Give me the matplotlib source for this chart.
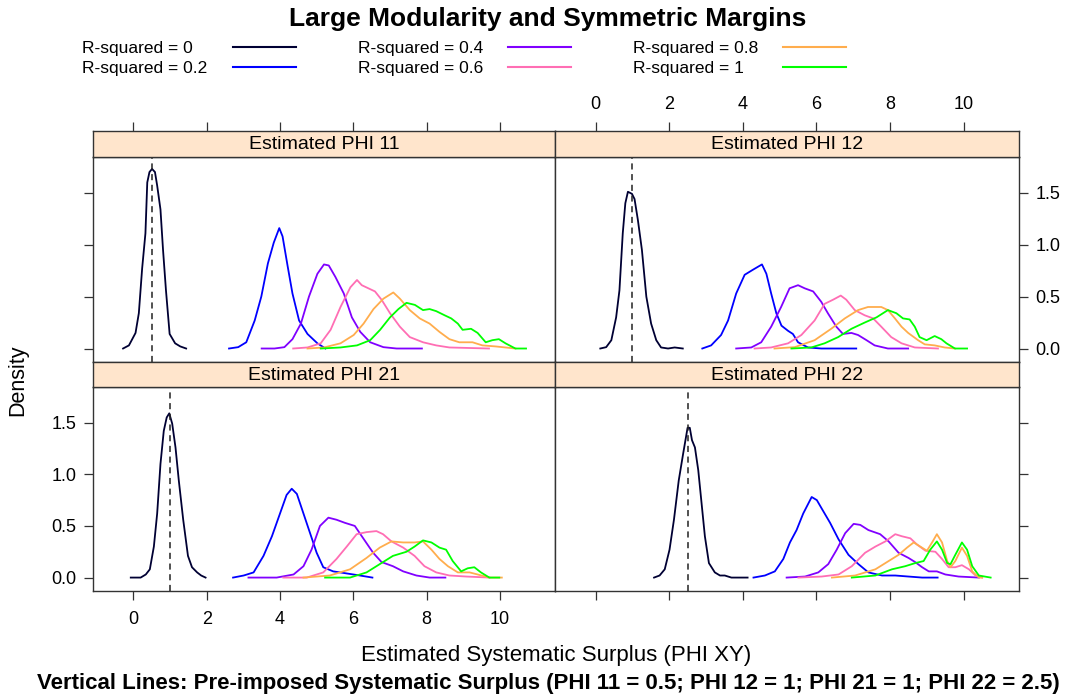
import matplotlib
matplotlib.use("Agg")
import matplotlib.pyplot as plt
from matplotlib.lines import Line2D

plt.rcParams["font.family"] = ["Liberation Sans", "DejaVu Sans"]

# ---- data (density curves per R-squared group) ----
groups = ["R-squared = 0", "R-squared = 0.2", "R-squared = 0.4",
          "R-squared = 0.6", "R-squared = 0.8", "R-squared = 1"]
colors = ["#000033", "#0000ff", "#8000ff", "#ff6eb4", "#ffad4d", "#00ff00"]

panel_titles = ["Estimated PHI 11", "Estimated PHI 12", "Estimated PHI 21", "Estimated PHI 22"]
true_phi = [0.5, 1.0, 1.0, 2.5]

p11_x = [
    [-0.28, -0.12, 0.06, 0.15, 0.24, 0.33, 0.38, 0.44, 0.51, 0.59, 0.65, 0.74, 0.81, 0.89, 0.99, 1.14, 1.28, 1.44],
    [2.61, 2.86, 3.08, 3.31, 3.49, 3.67, 3.83, 3.98, 4.07, 4.21, 4.34, 4.52, 4.75, 5.02, 5.24],
    [3.50, 3.85, 4.12, 4.34, 4.57, 4.79, 5.02, 5.20, 5.33, 5.51, 5.74, 5.96, 6.19, 6.46, 6.82, 7.18, 7.87],
    [4.36, 4.75, 5.11, 5.38, 5.65, 5.92, 6.10, 6.23, 6.41, 6.59, 6.77, 7.00, 7.27, 7.54, 7.90, 8.26, 8.62, 9.70],
    [4.75, 5.20, 5.65, 6.01, 6.28, 6.55, 6.82, 7.09, 7.27, 7.54, 7.81, 8.08, 8.35, 8.62, 8.89, 9.25, 9.52, 9.88, 10.15, 10.42],
    [5.11, 5.65, 6.10, 6.46, 6.73, 7.00, 7.23, 7.45, 7.68, 7.90, 8.08, 8.26, 8.49, 8.67, 8.85, 8.98, 9.21, 9.39, 9.61, 9.79, 9.97, 10.15, 10.42, 10.71],
]
p11_y = [
    [0, 0.03, 0.15, 0.34, 0.77, 1.11, 1.60, 1.70, 1.73, 1.70, 1.57, 1.34, 0.95, 0.56, 0.14, 0.05, 0.02, 0],
    [0, 0.013, 0.06, 0.27, 0.50, 0.82, 1.02, 1.16, 1.08, 0.79, 0.53, 0.27, 0.14, 0.05, 0],
    [0, 0, 0.013, 0.09, 0.24, 0.50, 0.72, 0.81, 0.80, 0.69, 0.53, 0.30, 0.16, 0.06, 0.013, 0, 0],
    [0, 0.01, 0.05, 0.18, 0.40, 0.59, 0.66, 0.61, 0.58, 0.55, 0.47, 0.34, 0.21, 0.11, 0.06, 0.03, 0.01, 0],
    [0, 0.01, 0.05, 0.13, 0.24, 0.38, 0.48, 0.54, 0.48, 0.37, 0.29, 0.24, 0.16, 0.09, 0.06, 0.06, 0.03, 0.02, 0.01, 0],
    [0, 0.01, 0.03, 0.08, 0.18, 0.30, 0.38, 0.44, 0.42, 0.37, 0.38, 0.36, 0.32, 0.29, 0.24, 0.18, 0.19, 0.15, 0.06, 0.08, 0.09, 0.05, 0, 0],
]

p12_x = [
    [0.13, 0.29, 0.43, 0.56, 0.65, 0.74, 0.81, 0.88, 0.99, 1.06, 1.15, 1.26, 1.38, 1.51, 1.65, 1.78, 1.97, 2.15, 2.37],
    [2.90, 3.14, 3.41, 3.60, 3.82, 4.05, 4.28, 4.52, 4.64, 4.77, 4.91, 5.05, 5.23, 5.36, 5.50, 5.77, 6.13, 6.59, 7.08],
    [3.82, 4.23, 4.50, 4.77, 5.04, 5.27, 5.50, 5.68, 5.91, 6.13, 6.31, 6.54, 6.72, 6.95, 7.13, 7.36, 7.58, 7.94, 8.49],
    [4.32, 4.77, 5.23, 5.59, 5.95, 6.22, 6.45, 6.66, 6.81, 7.04, 7.31, 7.54, 7.76, 8.03, 8.31, 8.67, 9.30],
    [4.86, 5.41, 5.95, 6.40, 6.77, 7.13, 7.40, 7.76, 7.94, 8.13, 8.31, 8.49, 8.76, 8.94, 9.21, 9.48, 9.76],
    [5.32, 5.86, 6.22, 6.59, 6.95, 7.31, 7.63, 7.94, 8.17, 8.35, 8.53, 8.67, 8.80, 8.99, 9.21, 9.39, 9.53, 9.76, 10.09],
]
p12_y = [
    [0, 0.013, 0.08, 0.30, 0.56, 1.11, 1.40, 1.51, 1.49, 1.44, 1.24, 0.95, 0.50, 0.24, 0.08, 0.01, 0, 0.01, 0],
    [0, 0.03, 0.13, 0.27, 0.53, 0.71, 0.76, 0.81, 0.72, 0.53, 0.34, 0.22, 0.17, 0.14, 0.06, 0.01, 0, 0, 0],
    [0, 0.01, 0.06, 0.21, 0.40, 0.58, 0.61, 0.58, 0.55, 0.45, 0.34, 0.21, 0.14, 0.15, 0.13, 0.08, 0.03, 0, 0],
    [0, 0.01, 0.05, 0.13, 0.27, 0.43, 0.47, 0.51, 0.47, 0.37, 0.32, 0.29, 0.21, 0.11, 0.05, 0.01, 0],
    [0, 0.013, 0.08, 0.19, 0.29, 0.37, 0.40, 0.40, 0.37, 0.29, 0.21, 0.15, 0.08, 0.04, 0.03, 0.01, 0],
    [0, 0.01, 0.05, 0.11, 0.19, 0.25, 0.30, 0.37, 0.34, 0.29, 0.28, 0.21, 0.11, 0.08, 0.12, 0.09, 0.05, 0, 0],
]

p21_x = [
    [-0.07, 0.20, 0.34, 0.45, 0.56, 0.65, 0.74, 0.83, 0.91, 0.98, 1.06, 1.15, 1.24, 1.36, 1.49, 1.60, 1.74, 1.85, 1.97],
    [2.72, 3.01, 3.28, 3.55, 3.78, 4.00, 4.18, 4.32, 4.46, 4.64, 4.82, 5.00, 5.18, 5.45, 5.82, 6.18, 6.52],
    [3.14, 3.91, 4.37, 4.64, 4.86, 5.09, 5.32, 5.54, 5.77, 6.04, 6.27, 6.54, 6.77, 7.08, 7.36, 7.72, 8.08, 8.51],
    [4.09, 4.73, 5.18, 5.54, 5.82, 6.09, 6.36, 6.63, 6.81, 7.04, 7.36, 7.67, 7.94, 8.26, 8.62, 9.08, 9.71],
    [4.64, 5.36, 5.91, 6.36, 6.72, 7.04, 7.36, 7.67, 7.90, 8.13, 8.35, 8.58, 8.85, 9.17, 9.39, 9.71, 10.05],
    [5.23, 5.91, 6.36, 6.72, 7.08, 7.45, 7.67, 7.90, 8.13, 8.35, 8.53, 8.71, 8.94, 9.12, 9.30, 9.48, 9.71, 9.98],
]
p21_y = [
    [0, 0, 0.03, 0.08, 0.30, 0.62, 1.10, 1.42, 1.55, 1.59, 1.49, 1.26, 0.94, 0.56, 0.21, 0.10, 0.05, 0.02, 0],
    [0, 0.02, 0.05, 0.21, 0.40, 0.62, 0.80, 0.86, 0.81, 0.62, 0.43, 0.24, 0.10, 0.06, 0.04, 0.02, 0],
    [0, 0, 0.03, 0.11, 0.27, 0.50, 0.58, 0.56, 0.53, 0.50, 0.38, 0.24, 0.15, 0.11, 0.06, 0.02, 0, 0],
    [0, 0, 0.05, 0.18, 0.30, 0.42, 0.44, 0.45, 0.42, 0.35, 0.29, 0.21, 0.11, 0.05, 0.02, 0.01, 0],
    [0, 0.02, 0.08, 0.19, 0.29, 0.35, 0.34, 0.34, 0.35, 0.27, 0.18, 0.11, 0.05, 0.05, 0.03, 0, 0],
    [0, 0, 0.05, 0.13, 0.21, 0.25, 0.30, 0.36, 0.34, 0.29, 0.27, 0.16, 0.06, 0.09, 0.10, 0.05, 0, 0],
]

p22_x = [
    [1.59, 1.74, 1.88, 2.01, 2.13, 2.26, 2.38, 2.50, 2.56, 2.62, 2.70, 2.79, 2.88, 2.97, 3.08, 3.24, 3.38, 3.51, 3.69, 4.13],
    [4.29, 4.60, 4.87, 5.10, 5.28, 5.46, 5.64, 5.87, 6.01, 6.14, 6.37, 6.60, 6.87, 7.14, 7.41, 7.78, 8.14, 8.50, 8.87, 9.29],
    [5.19, 5.69, 6.05, 6.32, 6.55, 6.78, 7.01, 7.19, 7.41, 7.73, 7.96, 8.23, 8.50, 8.68, 8.87, 9.05, 9.27, 9.50, 9.86, 10.41],
    [5.51, 6.14, 6.60, 6.96, 7.32, 7.60, 7.87, 8.14, 8.32, 8.55, 8.73, 8.96, 9.23, 9.41, 9.59, 9.77, 9.95, 10.14, 10.32, 10.50],
    [6.42, 7.05, 7.60, 7.96, 8.23, 8.46, 8.64, 8.82, 9.00, 9.14, 9.27, 9.41, 9.55, 9.64, 9.77, 9.95, 10.09, 10.23, 10.41, 10.50],
    [6.96, 7.60, 8.05, 8.41, 8.68, 8.91, 9.09, 9.27, 9.41, 9.55, 9.64, 9.77, 9.95, 10.09, 10.23, 10.41, 10.73],
]
p22_y = [
    [0, 0.02, 0.08, 0.27, 0.56, 0.94, 1.20, 1.45, 1.45, 1.33, 1.26, 1.04, 0.72, 0.40, 0.14, 0.05, 0.02, 0.02, 0, 0],
    [0, 0.02, 0.06, 0.18, 0.34, 0.46, 0.62, 0.78, 0.75, 0.67, 0.53, 0.37, 0.22, 0.13, 0.05, 0.02, 0.02, 0.01, 0, 0],
    [0, 0.01, 0.05, 0.13, 0.27, 0.43, 0.52, 0.51, 0.46, 0.42, 0.35, 0.24, 0.19, 0.15, 0.10, 0.06, 0.06, 0.03, 0.01, 0],
    [0, 0.01, 0.03, 0.11, 0.24, 0.30, 0.35, 0.42, 0.40, 0.38, 0.32, 0.26, 0.25, 0.18, 0.10, 0.10, 0.12, 0.08, 0.02, 0],
    [0, 0.02, 0.08, 0.16, 0.22, 0.29, 0.34, 0.30, 0.26, 0.34, 0.42, 0.34, 0.16, 0.10, 0.16, 0.29, 0.21, 0.06, 0, 0],
    [0, 0.02, 0.08, 0.11, 0.14, 0.16, 0.27, 0.35, 0.27, 0.14, 0.13, 0.22, 0.34, 0.27, 0.11, 0.02, 0],
]

panel_x = [p11_x, p12_x, p21_x, p22_x]
panel_y = [p11_y, p12_y, p21_y, p22_y]

x_ticks = [0, 2, 4, 6, 8, 10]
y_ticks = [0.0, 0.5, 1.0, 1.5]
y_tick_labels = ["0.0", "0.5", "1.0", "1.5"]

# ---- layout (pixel positions of the lattice panels) ----
W, H = 1069, 698
XLIM = (-1.1, 11.5)
YLIM = (-0.13, 1.845)
FRAME = "#333333"
STRIP_BG = "#ffe5cc"


def frac(x0, y0, x1, y1):
    return [x0 / W, 1 - y1 / H, (x1 - x0) / W, (y1 - y0) / H]


cols = [(93, 555), (555, 1019)]
rows = [(131, 157, 362), (362, 387, 591)]  # strip top, panel top, panel bottom

fig = plt.figure(figsize=(W / 100, H / 100), dpi=100)
fig.patch.set_facecolor("white")

tick_kw = dict(direction="out", length=6.7, width=0.9, color=FRAME, labelsize=13)

for i in range(4):
    r, c = divmod(i, 2)
    xa, xb = cols[c]
    st, pt, pb = rows[r]

    ax = fig.add_axes(frac(xa, pt, xb, pb))
    for xs, ys, col in zip(panel_x[i], panel_y[i], colors):
        ax.plot(xs, ys, color=col, lw=1.3, solid_joinstyle="round")
    ax.axvline(true_phi[i], color="#222222", lw=1.1, ls=(0, (4, 3)))
    ax.set_xlim(*XLIM)
    ax.set_ylim(*YLIM)
    for s in ax.spines.values():
        s.set_color(FRAME)
        s.set_linewidth(1.0)

    ax.set_xticks(x_ticks)
    ax.set_yticks(y_ticks)
    ax.set_yticklabels(y_tick_labels)
    ax.tick_params(**tick_kw)
    # bottom axis only on the lower row
    ax.tick_params(axis="x", bottom=(r == 1), top=False, pad=7.5,
                   labelbottom=(r == 1 and c == 0), labeltop=False)
    # left on left column, right on right column
    ax.tick_params(axis="y", left=(c == 0), right=(c == 1), pad=5,
                   labelleft=(r == 1 and c == 0), labelright=(r == 0 and c == 1))

    sax = fig.add_axes(frac(xa, st, xb, pt))
    sax.set_facecolor(STRIP_BG)
    sax.set_xlim(*XLIM)
    sax.set_ylim(0, 1)
    sax.set_yticks([])
    for s in sax.spines.values():
        s.set_color(FRAME)
        s.set_linewidth(1.0)
    sax.text(0.5, 0.47, panel_titles[i], transform=sax.transAxes,
             ha="center", va="center", fontsize=14)
    if r == 0:
        sax.set_xticks(x_ticks)
        sax.tick_params(**tick_kw)
        sax.tick_params(axis="x", bottom=False, labelbottom=False, top=True,
                        labeltop=(c == 1), pad=6.5)
    else:
        sax.set_xticks([])

# ---- titles and labels ----
fig.text(548 / W, 1 - 19 / H, "Large Modularity and Symmetric Margins",
         ha="center", va="center", fontsize=19, fontweight="bold")
fig.text(18 / W, 1 - 380 / H, "Density", rotation=90, ha="center", va="center", fontsize=15.5)
fig.text(556 / W, 1 - 655 / H, "Estimated Systematic Surplus (PHI XY)",
         ha="center", va="center", fontsize=16)
fig.text(548 / W, 1 - 683 / H,
         "Vertical Lines: Pre-imposed Systematic Surplus (PHI 11 = 0.5; PHI 12 = 1; PHI 21 = 1; PHI 22 = 2.5)",
         ha="center", va="center", fontsize=16, fontweight="bold")

# ---- legend (3 columns x 2 rows, text then line) ----
leg_text_x = [82, 358, 633]
leg_line_x = [(233, 296), (508, 571), (783, 846)]
leg_y = [48, 68]
for k, (lab, col) in enumerate(zip(groups, colors)):
    cc, rr = divmod(k, 2)
    yy = 1 - leg_y[rr] / H
    fig.text(leg_text_x[cc] / W, yy, lab, ha="left", va="center", fontsize=12.5)
    x0, x1 = leg_line_x[cc]
    fig.add_artist(Line2D([x0 / W, x1 / W], [yy + 1.5 / H, yy + 1.5 / H], color=col, lw=1.5,
                          transform=fig.transFigure))

fig.savefig("out.png", dpi=100)
